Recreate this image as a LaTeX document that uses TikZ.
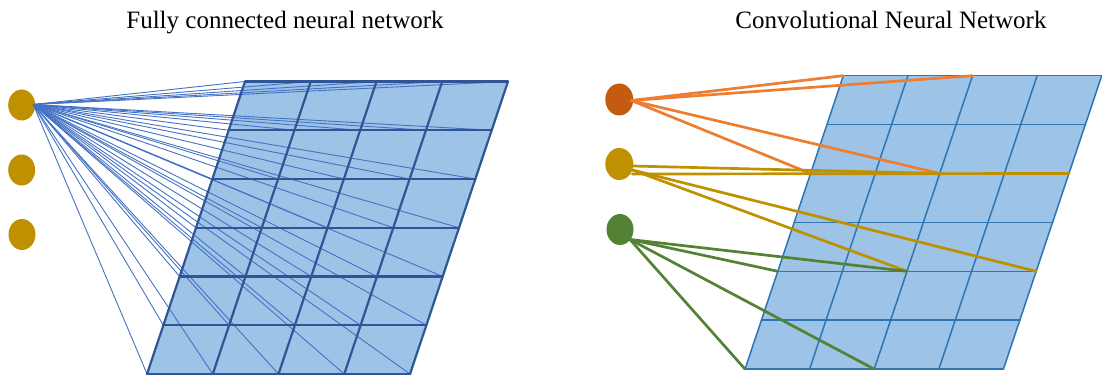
\documentclass[tikz,border=0pt]{standalone}
\usepackage{fontspec}
\setmainfont{Liberation Serif}
\usetikzlibrary{calc,shapes.geometric}

\definecolor{cellfill}{HTML}{9DC3E6}
\definecolor{gridA}{HTML}{2F5597}
\definecolor{gridB}{HTML}{2E75B6}
\definecolor{fcblue}{HTML}{4472C4}
\definecolor{nodegold}{HTML}{BF9000}
\definecolor{nodeorange}{HTML}{C55A11}
\definecolor{lineorange}{HTML}{ED7D31}
\definecolor{nodegreen}{HTML}{548235}

\tikzset{
  neuron/.style={ellipse, draw=none, minimum width=27, minimum height=31, inner sep=0pt},
  title/.style={font=\fontsize{25}{30}\selectfont, anchor=base, inner sep=0pt},
  fcline/.style={fcblue, line width=0.9pt},
  gridleft/.style={gridA, line width=2.2pt, line join=round, line cap=round},
  gridright/.style={gridB, line width=1.5pt, line join=round, line cap=round},
  kernel/.style={line width=2.7pt, line cap=round},
}

\begin{document}
\begin{tikzpicture}[x=1pt, y=-1pt]
\useasboundingbox (0,0) rectangle (1102,377);

% titles
\node[title] (t1) at (285,29) {Fully connected neural network};
\node[title] (t2) at (891,29) {Convolutional Neural Network};

% ---------- fully connected layer ----------
\foreach \i in {0,...,4}{
  \foreach \j in {0,...,6}{
    \coordinate (L-\i-\j) at ({245+\i*65.75-\j*16.33},{81.5+\j*48.75});
  }
}
\node[neuron, fill=nodegold] (a1) at (21.7,105) {};
\node[neuron, fill=nodegold] (a2) at (21.7,170) {};
\node[neuron, fill=nodegold] (a3) at (22,234.5) {};
\coordinate (a1out) at ($(a1.center)+(11.5,-0.5)$);

\fill[cellfill] (L-0-0) -- (L-4-0) -- (L-4-6) -- (L-0-6) -- cycle;
\foreach \i in {0,...,4}{
  \foreach \j in {0,...,6}{
    \draw[fcline] (a1out) -- (L-\i-\j);
  }
}
\foreach \j in {0,...,6}{\draw[gridleft] (L-0-\j) -- (L-4-\j);}
\foreach \i in {0,...,4}{\draw[gridleft] (L-\i-0) -- (L-\i-6);}

% ---------- convolutional layer ----------
\foreach \i in {0,...,4}{
  \foreach \j in {0,...,6}{
    \coordinate (R-\i-\j) at ({843.3+\i*64.6-\j*16.38},{75.7+\j*48.9});
  }
}
\node[neuron, fill=nodeorange, minimum width=28, minimum height=32] (b1) at (619.3,99.5) {};
\node[neuron, fill=nodegold, minimum width=28, minimum height=32] (b2) at (619.3,164) {};
\node[neuron, fill=nodegreen] (b3) at (620,229.5) {};

\fill[cellfill] (R-0-0) -- (R-4-0) -- (R-4-6) -- (R-0-6) -- cycle;
\foreach \j in {0,...,6}{\draw[gridright] (R-0-\j) -- (R-4-\j);}
\foreach \i in {0,...,4}{\draw[gridright] (R-\i-0) -- (R-\i-6);}

% receptive fields
\coordinate (b1out) at ($(b1.center)+(12,1)$);
\foreach \i/\j in {0/0,2/0,0/2,2/2}{\draw[kernel, lineorange] (b1out) -- (R-\i-\j);}

\coordinate (b2up) at ($(b2.center)+(13,2)$);
\coordinate (b2mid) at ($(b2.center)+(13,6)$);
\coordinate (b2low) at ($(b2.center)+(13,10)$);
\draw[kernel, nodegold] (b2up) -- (R-2-2);
\draw[kernel, nodegold] (b2low) -- (R-4-2);
\draw[kernel, nodegold] (b2mid) -- (R-2-4);
\draw[kernel, nodegold] (b2mid) -- (R-4-4);

\coordinate (b3out) at ($(b3.center)+(10,10)$);
\foreach \i/\j in {0/4,2/4,0/6,2/6}{\draw[kernel, nodegreen] (b3out) -- (R-\i-\j);}
\end{tikzpicture}
\end{document}
